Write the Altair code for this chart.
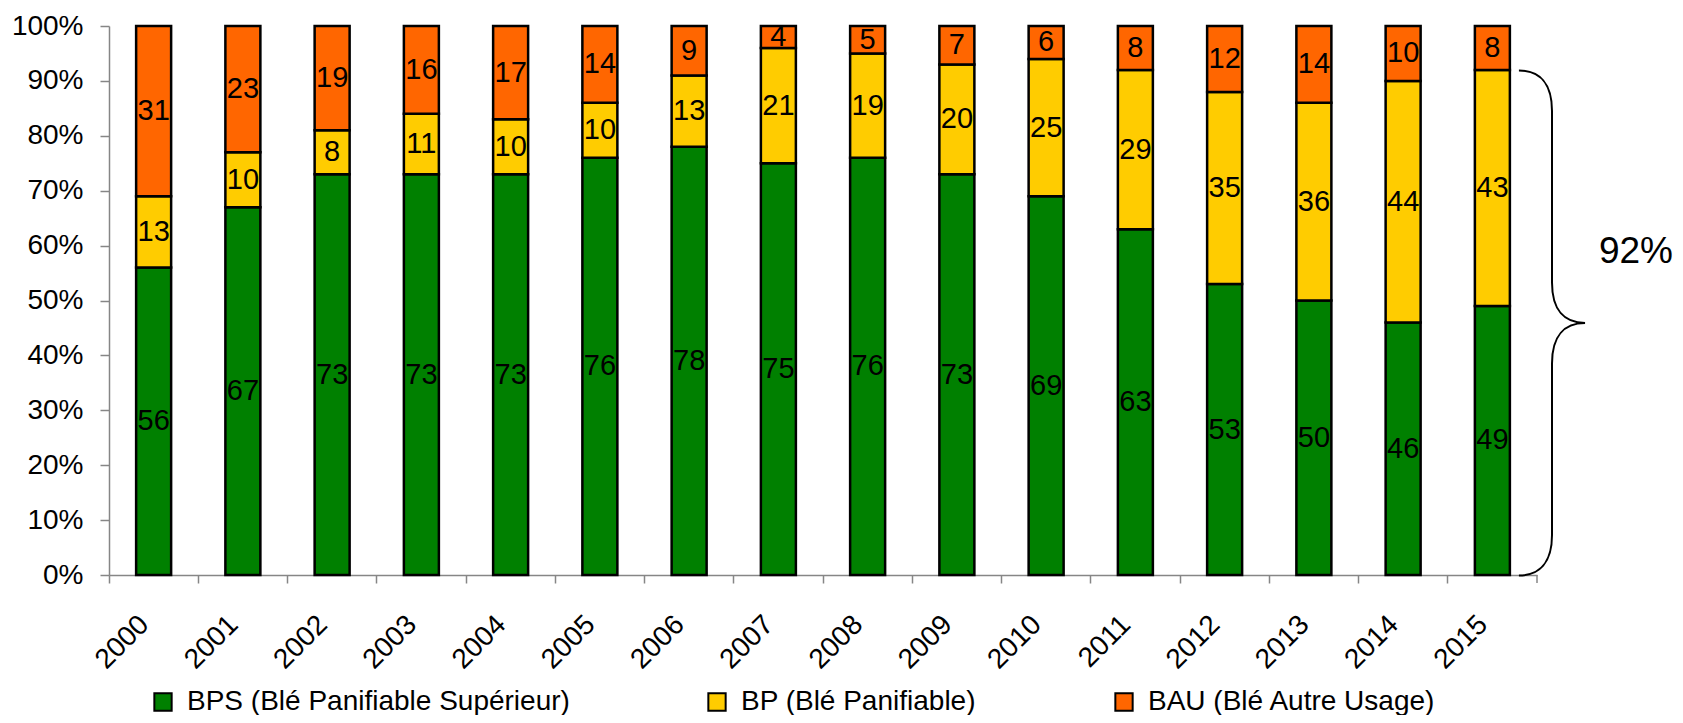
import altair as alt
import pandas as pd

years = [str(y) for y in range(2000, 2016)]
bps = [56, 67, 73, 73, 73, 76, 78, 75, 76, 73, 69, 63, 53, 50, 46, 49]
bp = [13, 10, 8, 11, 10, 10, 13, 21, 19, 20, 25, 29, 35, 36, 44, 43]
bau = [31, 23, 19, 16, 17, 14, 9, 4, 5, 7, 6, 8, 12, 14, 10, 8]
series = ["BPS (Blé Panifiable Supérieur)", "BP (Blé Panifiable)", "BAU (Blé Autre Usage)"]
colors = ["#008000", "#FFCC00", "#FF6600"]
y_ticks = [0.0, 0.1, 0.2, 0.3, 0.4, 0.5, 0.6, 0.7, 0.8, 0.9, 1.0]
bracket_label = "92%"

rows = []
for i, yr in enumerate(years):
    for k, (name, vals) in enumerate(zip(series, [bps, bp, bau])):
        rows.append({"year": yr, "series": name, "order": k,
                     "value": vals[i], "frac": vals[i] / 100})
df = pd.DataFrame(rows)

FONT = "Liberation Sans"
W, H = 1428, 549
AXIS_GRAY = "#868686"

x_axis = alt.Axis(title=None, bandPosition=0, labelAngle=-45, labelAlign="right",
                  labelBaseline="middle", labelOffset=-9, labelPadding=37,
                  tickSize=8, tickColor=AXIS_GRAY, tickWidth=1.5,
                  domainColor=AXIS_GRAY, domainWidth=1.5,
                  labelFontSize=28, labelFont=FONT, labelColor="black",
                  labelOverlap=False, grid=False)
x_scale = alt.Scale(paddingInner=0, paddingOuter=0)

y_axis = alt.Axis(title=None, format=".0%", values=y_ticks, tickSize=9,
                  tickColor=AXIS_GRAY, tickWidth=1.5, domainColor=AXIS_GRAY,
                  domainWidth=1.5, labelFontSize=28, labelFont=FONT,
                  labelColor="black", labelPadding=17, labelOverlap=False,
                  grid=False)

legend = alt.Legend(title=None, orient="none", legendX=40, legendY=662,
                    direction="horizontal", symbolType="square", symbolSize=300,
                    symbolStrokeColor="black", symbolStrokeWidth=2,
                    labelFontSize=28, labelFont=FONT, labelColor="black",
                    columnPadding=133, labelOffset=10, padding=0, labelLimit=1000)

bars = alt.Chart(df).mark_bar(size=35, stroke="black", strokeWidth=2.5).encode(
    x=alt.X("year:N", sort=years, scale=x_scale, axis=x_axis),
    y=alt.Y("frac:Q", stack="zero", scale=alt.Scale(domain=[0, 1]), axis=y_axis),
    color=alt.Color("series:N", scale=alt.Scale(domain=series, range=colors), legend=legend),
    order=alt.Order("order:Q"),
)

labels = alt.Chart(df).transform_stack(
    stack="frac", groupby=["year"], as_=["y0", "y1"],
    sort=[alt.SortField("order", order="ascending")]
).transform_calculate(
    mid="(datum.y0 + datum.y1) / 2"
).mark_text(fontSize=29, font=FONT, color="black", align="center", baseline="middle").encode(
    x=alt.X("year:N", sort=years, scale=x_scale),
    y=alt.Y("mid:Q", scale=alt.Scale(domain=[0, 1])),
    text=alt.Text("value:Q"),
)

one = pd.DataFrame({"k": [0]})

end_tick = alt.Chart(one).mark_rule(color=AXIS_GRAY, strokeWidth=1.5).encode(
    x=alt.value(W), y=alt.value(H), y2=alt.value(H + 8)
)

brace_path = ("M -0.131 -1 C -0.05 -1 0 -0.95 0 -0.84 L 0 -0.16 "
              "C 0 -0.05 0.05 0 0.131 0 M 0.131 0 C 0.05 0 0 0.05 0 0.16 "
              "L 0 0.84 C 0 0.95 -0.05 1 -0.131 1")
brace = alt.Chart(one).mark_point(shape=brace_path, filled=False, stroke="black",
                                  strokeWidth=2, opacity=1).encode(
    x=alt.value(1443), y=alt.value(297), size=alt.value(255025)
)
pct = alt.Chart(one).mark_text(fontSize=37, font=FONT, color="black",
                               align="center", baseline="middle").encode(
    x=alt.value(1527), y=alt.value(226), text=alt.value(bracket_label)
)

chart = alt.layer(bars, labels, end_tick, brace, pct).properties(
    width=W, height=H,
    padding={"left": 101, "top": 18, "right": 138, "bottom": 140},
    autosize=alt.AutoSizeParams(type="none"),
).configure_view(strokeWidth=0)

chart.save("out.html", embed_options={"renderer": "svg", "actions": False})
